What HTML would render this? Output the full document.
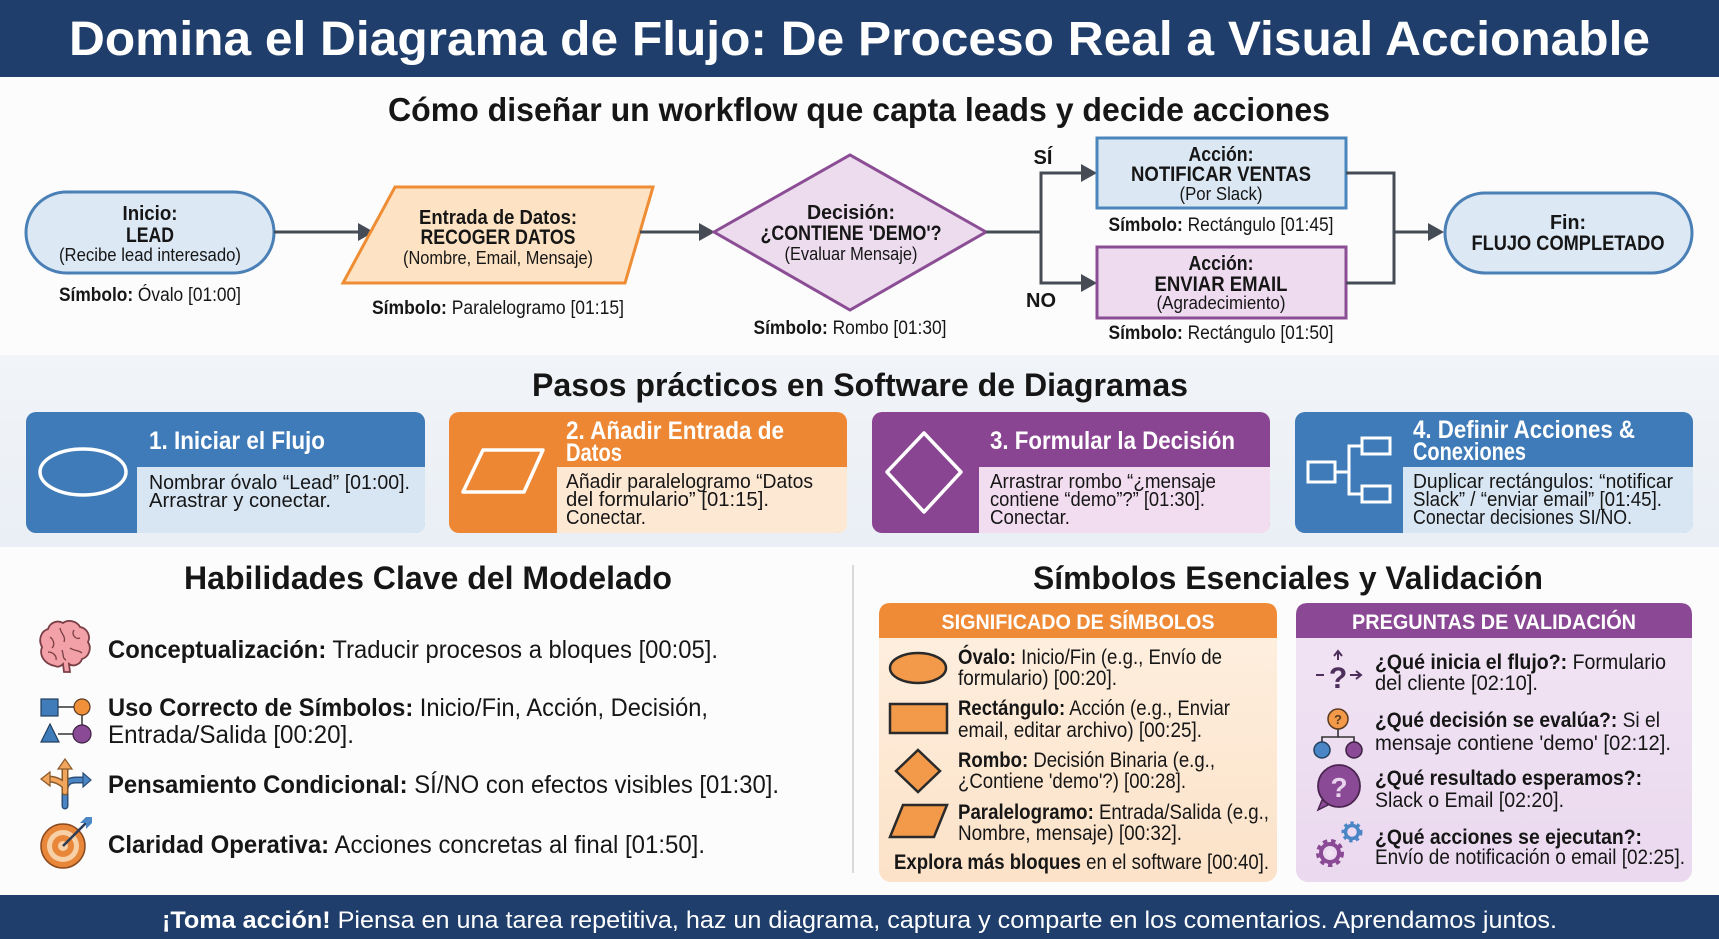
<!DOCTYPE html>
<html><head><meta charset="utf-8">
<style>
html,body{margin:0;padding:0;background:#fcfcfd;}
svg{display:block;}
text{font-family:"Liberation Sans",sans-serif;fill:#161616;}
.b{font-weight:bold;}
.w{fill:#fff;}
</style></head>
<body>
<svg width="1719" height="939" viewBox="0 0 1719 939" xmlns="http://www.w3.org/2000/svg">
<defs>
<linearGradient id="band" x1="0" y1="0" x2="0" y2="1"><stop offset="0" stop-color="#f1f4f8"/><stop offset="1" stop-color="#eaeff5"/></linearGradient>
<linearGradient id="orb" x1="0" y1="0" x2="0" y2="1"><stop offset="0" stop-color="#fef0e1"/><stop offset="1" stop-color="#fce2c8"/></linearGradient>
<linearGradient id="pub" x1="0" y1="0" x2="0" y2="1"><stop offset="0" stop-color="#f1e4f4"/><stop offset="1" stop-color="#ebd9ef"/></linearGradient>
</defs>
<rect x="0" y="0" width="1719" height="939" fill="#fcfcfd"/>

<!-- Header -->
<rect x="0" y="0" width="1719" height="77" fill="#1f3e6b"/>
<text x="69" y="55" font-size="48" class="b w" textLength="1581" lengthAdjust="spacingAndGlyphs">Domina el Diagrama de Flujo: De Proceso Real a Visual Accionable</text>

<!-- Subtitle -->
<text x="388" y="121" font-size="33" class="b" textLength="942" lengthAdjust="spacingAndGlyphs">Cómo diseñar un workflow que capta leads y decide acciones</text>

<!-- Flow: start oval -->
<rect x="26" y="192" width="248" height="81" rx="40.5" fill="#dce9f5" stroke="#4a80b6" stroke-width="3"/>
<text x="150" y="220" font-size="20" class="b" text-anchor="middle" textLength="55" lengthAdjust="spacingAndGlyphs">Inicio:</text>
<text x="150" y="242" font-size="21" class="b" text-anchor="middle" textLength="48" lengthAdjust="spacingAndGlyphs">LEAD</text>
<text x="150" y="261" font-size="18" text-anchor="middle" textLength="182" lengthAdjust="spacingAndGlyphs">(Recibe lead interesado)</text>
<text x="150" y="301" font-size="19" text-anchor="middle" textLength="182" lengthAdjust="spacingAndGlyphs"><tspan class="b">Símbolo:</tspan> Óvalo [01:00]</text>

<!-- arrow 1 -->
<line x1="274" y1="232" x2="360" y2="232" stroke="#464c55" stroke-width="3"/>
<polygon points="358,223 374,232 358,241" fill="#464c55"/>

<!-- parallelogram -->
<polygon points="395,187 653,187 625,283 343,283" fill="#fde3c4" stroke="#ee8d33" stroke-width="3" stroke-linejoin="miter"/>
<text x="498" y="224" font-size="20" class="b" text-anchor="middle" textLength="158" lengthAdjust="spacingAndGlyphs">Entrada de Datos:</text>
<text x="498" y="244" font-size="21" class="b" text-anchor="middle" textLength="155" lengthAdjust="spacingAndGlyphs">RECOGER DATOS</text>
<text x="498" y="264" font-size="18" text-anchor="middle" textLength="190" lengthAdjust="spacingAndGlyphs">(Nombre, Email, Mensaje)</text>
<text x="498" y="314" font-size="19" text-anchor="middle" textLength="252" lengthAdjust="spacingAndGlyphs"><tspan class="b">Símbolo:</tspan> Paralelogramo [01:15]</text>

<!-- arrow 2 -->
<line x1="640" y1="232" x2="700" y2="232" stroke="#464c55" stroke-width="3"/>
<polygon points="699,223 715,232 699,241" fill="#464c55"/>

<!-- diamond -->
<polygon points="714,232 850,155 986,232 850,310" fill="#ecdcee" stroke="#8b4d94" stroke-width="3"/>
<text x="851" y="219" font-size="20" class="b" text-anchor="middle" textLength="88" lengthAdjust="spacingAndGlyphs">Decisión:</text>
<text x="851" y="240" font-size="21" class="b" text-anchor="middle" textLength="181" lengthAdjust="spacingAndGlyphs">¿CONTIENE 'DEMO'?</text>
<text x="851" y="260" font-size="18" text-anchor="middle" textLength="133" lengthAdjust="spacingAndGlyphs">(Evaluar Mensaje)</text>
<text x="850" y="334" font-size="19" text-anchor="middle" textLength="193" lengthAdjust="spacingAndGlyphs"><tspan class="b">Símbolo:</tspan> Rombo [01:30]</text>

<!-- branch connectors -->
<polyline points="986,232 1041,232" fill="none" stroke="#464c55" stroke-width="3"/>
<polyline points="1083,173 1041,173 1041,283 1083,283" fill="none" stroke="#464c55" stroke-width="3"/>
<polygon points="1081,164 1097,173 1081,182" fill="#464c55"/>
<polygon points="1081,274 1097,283 1081,292" fill="#464c55"/>
<text x="1043" y="164" font-size="20" class="b" text-anchor="middle">SÍ</text>
<text x="1041" y="307" font-size="20" class="b" text-anchor="middle">NO</text>

<!-- rect 1 -->
<rect x="1097" y="138" width="249" height="70" fill="#dbe8f4" stroke="#4a86bb" stroke-width="3"/>
<text x="1221" y="161" font-size="20" class="b" text-anchor="middle" textLength="65" lengthAdjust="spacingAndGlyphs">Acción:</text>
<text x="1221" y="181" font-size="21" class="b" text-anchor="middle" textLength="180" lengthAdjust="spacingAndGlyphs">NOTIFICAR VENTAS</text>
<text x="1221" y="200" font-size="18" text-anchor="middle" textLength="83" lengthAdjust="spacingAndGlyphs">(Por Slack)</text>
<text x="1221" y="231" font-size="19" text-anchor="middle" textLength="225" lengthAdjust="spacingAndGlyphs"><tspan class="b">Símbolo:</tspan> Rectángulo [01:45]</text>

<!-- rect 2 -->
<rect x="1097" y="247" width="249" height="71" fill="#eedbf0" stroke="#8b4d94" stroke-width="3"/>
<text x="1221" y="270" font-size="20" class="b" text-anchor="middle" textLength="65" lengthAdjust="spacingAndGlyphs">Acción:</text>
<text x="1221" y="291" font-size="21" class="b" text-anchor="middle" textLength="133" lengthAdjust="spacingAndGlyphs">ENVIAR EMAIL</text>
<text x="1221" y="309" font-size="18" text-anchor="middle" textLength="129" lengthAdjust="spacingAndGlyphs">(Agradecimiento)</text>
<text x="1221" y="339" font-size="19" text-anchor="middle" textLength="225" lengthAdjust="spacingAndGlyphs"><tspan class="b">Símbolo:</tspan> Rectángulo [01:50]</text>

<!-- merge connectors -->
<polyline points="1346,173 1394,173 1394,283 1346,283" fill="none" stroke="#464c55" stroke-width="3"/>
<line x1="1394" y1="232" x2="1430" y2="232" stroke="#464c55" stroke-width="3"/>
<polygon points="1428,223 1444,232 1428,241" fill="#464c55"/>

<!-- end oval -->
<rect x="1445" y="193" width="247" height="80" rx="40" fill="#dce9f5" stroke="#4a80b6" stroke-width="3"/>
<text x="1568" y="229" font-size="20" class="b" text-anchor="middle" textLength="36" lengthAdjust="spacingAndGlyphs">Fin:</text>
<text x="1568" y="250" font-size="21" class="b" text-anchor="middle" textLength="193" lengthAdjust="spacingAndGlyphs">FLUJO COMPLETADO</text>

<!-- Section 2 band -->
<rect x="0" y="355" width="1719" height="192" fill="url(#band)"/>
<text x="532" y="396" font-size="32" class="b" textLength="656" lengthAdjust="spacingAndGlyphs">Pasos prácticos en Software de Diagramas</text>

<!-- Card 1 -->
<rect x="26" y="412" width="399" height="121" rx="10" fill="#3f7bb8"/>
<path d="M137,467 H425 V523 Q425,533 415,533 H137 Z" fill="#d8e6f4"/>
<ellipse cx="83" cy="472" rx="43" ry="23" fill="none" stroke="#fff" stroke-width="3.5"/>
<text x="149" y="449" font-size="25" class="b w" textLength="176" lengthAdjust="spacingAndGlyphs">1. Iniciar el Flujo</text>
<text x="149" y="489" font-size="20.5" textLength="261" lengthAdjust="spacingAndGlyphs">Nombrar óvalo “Lead” [01:00].</text>
<text x="149" y="507" font-size="20.5" textLength="182" lengthAdjust="spacingAndGlyphs">Arrastrar y conectar.</text>

<!-- Card 2 -->
<rect x="449" y="412" width="398" height="121" rx="10" fill="#ee8733"/>
<path d="M557,467 H847 V523 Q847,533 837,533 H557 Z" fill="#fde8d4"/>
<polygon points="483,450 543,450 524,492 463,492" fill="none" stroke="#fff" stroke-width="3.5" stroke-linejoin="round"/>
<text x="566" y="439" font-size="25" class="b w" textLength="218" lengthAdjust="spacingAndGlyphs">2. Añadir Entrada de</text>
<text x="566" y="461" font-size="25" class="b w" textLength="56" lengthAdjust="spacingAndGlyphs">Datos</text>
<text x="566" y="488" font-size="20.5" textLength="247" lengthAdjust="spacingAndGlyphs">Añadir paralelogramo “Datos</text>
<text x="566" y="506" font-size="20.5" textLength="203" lengthAdjust="spacingAndGlyphs">del formulario” [01:15].</text>
<text x="566" y="524" font-size="20.5" textLength="80" lengthAdjust="spacingAndGlyphs">Conectar.</text>

<!-- Card 3 -->
<rect x="872" y="412" width="398" height="121" rx="10" fill="#8a4592"/>
<path d="M979,467 H1270 V523 Q1270,533 1260,533 H979 Z" fill="#f2dcf0"/>
<polygon points="924,433 961,472 924,512 887,472" fill="none" stroke="#fff" stroke-width="3.5" stroke-linejoin="round"/>
<text x="990" y="449" font-size="25" class="b w" textLength="245" lengthAdjust="spacingAndGlyphs">3. Formular la Decisión</text>
<text x="990" y="488" font-size="20.5" textLength="226" lengthAdjust="spacingAndGlyphs">Arrastrar rombo “¿mensaje</text>
<text x="990" y="506" font-size="20.5" textLength="215" lengthAdjust="spacingAndGlyphs">contiene “demo”?” [01:30].</text>
<text x="990" y="524" font-size="20.5" textLength="80" lengthAdjust="spacingAndGlyphs">Conectar.</text>

<!-- Card 4 -->
<rect x="1295" y="412" width="398" height="121" rx="10" fill="#3f7bb8"/>
<path d="M1403,467 H1693 V523 Q1693,533 1683,533 H1403 Z" fill="#d8e6f4"/>
<g fill="none" stroke="#fff" stroke-width="3">
<rect x="1308" y="462" width="27" height="20"/>
<rect x="1362" y="438" width="28" height="16"/>
<rect x="1362" y="486" width="28" height="16"/>
<polyline points="1335,472 1349,472"/>
<polyline points="1362,446 1349,446 1349,494 1362,494"/>
</g>
<text x="1413" y="438" font-size="25" class="b w" textLength="222" lengthAdjust="spacingAndGlyphs">4. Definir Acciones &amp;</text>
<text x="1413" y="460" font-size="25" class="b w" textLength="113" lengthAdjust="spacingAndGlyphs">Conexiones</text>
<text x="1413" y="488" font-size="20.5" textLength="260" lengthAdjust="spacingAndGlyphs">Duplicar rectángulos: “notificar</text>
<text x="1413" y="506" font-size="20.5" textLength="249" lengthAdjust="spacingAndGlyphs">Slack” / “enviar email” [01:45].</text>
<text x="1413" y="524" font-size="20.5" textLength="219" lengthAdjust="spacingAndGlyphs">Conectar decisiones SI/NO.</text>

<!-- Section 3 -->
<text x="184" y="589" font-size="32" class="b" textLength="488" lengthAdjust="spacingAndGlyphs">Habilidades Clave del Modelado</text>
<text x="1033" y="589" font-size="32" class="b" textLength="510" lengthAdjust="spacingAndGlyphs">Símbolos Esenciales y Validación</text>
<line x1="853" y1="565" x2="853" y2="873" stroke="#dadada" stroke-width="2"/>

<!-- brain icon -->
<g stroke="#7a3e45" stroke-width="1.8">
<path d="M55,666 C44,664 39,655 42,647 C38,640 41,631 48,629 C50,622 58,620 63,623 C68,619 77,621 80,627 C87,628 91,636 88,642 C92,648 89,657 82,659 C80,665 73,667 69,664 L70,672 L64,672 L63,664 C60,667 57,667 55,666 Z" fill="#f3a1a9"/>
<path d="M50,637 C54,640 55,645 52,648 M60,628 C61,634 66,636 64,642 M74,630 C71,635 76,640 80,638 M48,652 C53,652 57,656 56,660 M70,648 C74,651 79,650 82,653 M62,650 C64,655 62,658 66,660" fill="none" stroke-width="1.3"/>
</g>
<text x="108" y="658" font-size="25" textLength="610" lengthAdjust="spacingAndGlyphs"><tspan class="b">Conceptualización:</tspan> Traducir procesos a bloques [00:05].</text>

<!-- shapes icon -->
<line x1="58" y1="707" x2="74" y2="707" stroke="#333" stroke-width="1.5"/>
<line x1="82" y1="715" x2="82" y2="725" stroke="#333" stroke-width="1.5"/>
<line x1="58" y1="734" x2="73" y2="734" stroke="#333" stroke-width="1.5"/>
<rect x="41" y="699" width="17" height="17" fill="#3f7cb9" stroke="#23405f" stroke-width="1.2"/>
<circle cx="82" cy="707" r="8" fill="#f0913a" stroke="#5a3a20" stroke-width="1.2"/>
<polygon points="41,742 50,724 59,742" fill="#3f7cb9" stroke="#23405f" stroke-width="1.2"/>
<circle cx="82" cy="734" r="9" fill="#8b4a95" stroke="#3a2040" stroke-width="1.2"/>
<text x="108" y="716" font-size="25" textLength="600" lengthAdjust="spacingAndGlyphs"><tspan class="b">Uso Correcto de Símbolos:</tspan> Inicio/Fin, Acción, Decisión,</text>
<text x="108" y="743" font-size="25" textLength="246" lengthAdjust="spacingAndGlyphs">Entrada/Salida [00:20].</text>

<!-- arrows icon -->
<g fill="none" stroke-linecap="round" stroke-linejoin="round">
<path d="M65,806 L65,790 Q65,780 76,780 L84,780" stroke="#2e4f78" stroke-width="7"/>
<path d="M65,806 L65,790 Q65,780 76,780 L84,780" stroke="#4a86c5" stroke-width="4"/>
<path d="M65,792 L65,766 M65,786 Q58,779 48,779" stroke="#8a5a2a" stroke-width="7"/>
<path d="M65,792 L65,766 M65,786 Q58,779 48,779" stroke="#f2a55c" stroke-width="4"/>
</g>
<polygon points="65,759 58,769 72,769" fill="#f2a55c" stroke="#8a5a2a" stroke-width="1.2"/>
<polygon points="41,779 50,772 50,786" fill="#f2a55c" stroke="#8a5a2a" stroke-width="1.2"/>
<polygon points="91,780 83,773 83,787" fill="#4a86c5" stroke="#2e4f78" stroke-width="1.2"/>
<text x="108" y="793" font-size="25" textLength="671" lengthAdjust="spacingAndGlyphs"><tspan class="b">Pensamiento Condicional:</tspan> SÍ/NO con efectos visibles [01:30].</text>

<!-- target icon -->
<circle cx="63" cy="846" r="22" fill="#e8873a" stroke="#8a4a20" stroke-width="1.5"/>
<circle cx="63" cy="846" r="16" fill="#f8d0a8"/>
<circle cx="63" cy="846" r="11" fill="#e8873a"/>
<circle cx="63" cy="846" r="5" fill="#f8d0a8"/>
<line x1="63" y1="846" x2="86" y2="823" stroke="#2b3a55" stroke-width="2.5"/>
<polygon points="86,823 80,823 86,817 92,817" fill="#4a86c5"/>
<polygon points="86,823 86,829 92,823 92,817" fill="#4a86c5"/>
<text x="108" y="853" font-size="25" textLength="597" lengthAdjust="spacingAndGlyphs"><tspan class="b">Claridad Operativa:</tspan> Acciones concretas al final [01:50].</text>

<!-- Orange panel -->
<rect x="879" y="603" width="398" height="279" rx="12" fill="url(#orb)"/>
<path d="M879,638 V615 Q879,603 891,603 H1265 Q1277,603 1277,615 V638 Z" fill="#ef8a36"/>
<text x="1078" y="629" font-size="21" class="b w" text-anchor="middle" textLength="273" lengthAdjust="spacingAndGlyphs">SIGNIFICADO DE SÍMBOLOS</text>
<ellipse cx="918" cy="668" rx="28" ry="15" fill="#f29a4a" stroke="#2a2a2a" stroke-width="2.5"/>
<rect x="890" y="704" width="57" height="29" fill="#f29a4a" stroke="#2a2a2a" stroke-width="2.5"/>
<polygon points="918,750 940,771 918,792 896,771" fill="#f29a4a" stroke="#2a2a2a" stroke-width="2.5"/>
<polygon points="903,805 947,805 934,837 890,837" fill="#f29a4a" stroke="#2a2a2a" stroke-width="2.5"/>
<text x="958" y="664" font-size="21" textLength="264" lengthAdjust="spacingAndGlyphs"><tspan class="b">Óvalo:</tspan> Inicio/Fin (e.g., Envío de</text>
<text x="958" y="685" font-size="21" textLength="159" lengthAdjust="spacingAndGlyphs">formulario) [00:20].</text>
<text x="958" y="715" font-size="21" textLength="272" lengthAdjust="spacingAndGlyphs"><tspan class="b">Rectángulo:</tspan> Acción (e.g., Enviar</text>
<text x="958" y="737" font-size="21" textLength="244" lengthAdjust="spacingAndGlyphs">email, editar archivo) [00:25].</text>
<text x="958" y="767" font-size="21" textLength="257" lengthAdjust="spacingAndGlyphs"><tspan class="b">Rombo:</tspan> Decisión Binaria (e.g.,</text>
<text x="958" y="788" font-size="21" textLength="228" lengthAdjust="spacingAndGlyphs">¿Contiene 'demo'?) [00:28].</text>
<text x="958" y="819" font-size="21" textLength="311" lengthAdjust="spacingAndGlyphs"><tspan class="b">Paralelogramo:</tspan> Entrada/Salida (e.g.,</text>
<text x="958" y="840" font-size="21" textLength="224" lengthAdjust="spacingAndGlyphs">Nombre, mensaje) [00:32].</text>
<text x="894" y="869" font-size="21" textLength="375" lengthAdjust="spacingAndGlyphs"><tspan class="b">Explora más bloques</tspan> en el software [00:40].</text>

<!-- Purple panel -->
<rect x="1296" y="603" width="396" height="279" rx="12" fill="url(#pub)"/>
<path d="M1296,638 V615 Q1296,603 1308,603 H1680 Q1692,603 1692,615 V638 Z" fill="#8b4894"/>
<text x="1494" y="629" font-size="21" class="b w" text-anchor="middle" textLength="284" lengthAdjust="spacingAndGlyphs">PREGUNTAS DE VALIDACIÓN</text>

<!-- val icon 1 -->
<text x="1338" y="688" font-size="30" class="b" text-anchor="middle" style="fill:#4e2f5c">?</text>
<line x1="1338" y1="652" x2="1338" y2="660" stroke="#4e2f5c" stroke-width="2"/>
<polyline points="1334,656 1338,651 1342,656" fill="none" stroke="#4e2f5c" stroke-width="2"/>
<line x1="1316" y1="675" x2="1324" y2="675" stroke="#4e2f5c" stroke-width="2"/>
<line x1="1350" y1="675" x2="1360" y2="675" stroke="#4e2f5c" stroke-width="2"/>
<polyline points="1356,671 1361,675 1356,679" fill="none" stroke="#4e2f5c" stroke-width="2"/>
<text x="1375" y="669" font-size="21.5" textLength="291" lengthAdjust="spacingAndGlyphs"><tspan class="b">¿Qué inicia el flujo?:</tspan> Formulario</text>
<text x="1375" y="690" font-size="21.5" textLength="163" lengthAdjust="spacingAndGlyphs">del cliente [02:10].</text>

<!-- val icon 2 -->
<polyline points="1338,729 1338,737 1322,737 1322,742" fill="none" stroke="#333" stroke-width="1.6"/>
<polyline points="1338,737 1354,737 1354,742" fill="none" stroke="#333" stroke-width="1.6"/>
<circle cx="1338" cy="719" r="10" fill="#f29a4a" stroke="#5a3a20" stroke-width="1.5"/>
<text x="1338" y="724" font-size="13" class="b" text-anchor="middle" style="fill:#5a3a20">?</text>
<circle cx="1322" cy="750" r="8" fill="#4a86c5" stroke="#23405f" stroke-width="1.5"/>
<circle cx="1354" cy="750" r="8" fill="#8b4a95" stroke="#3a2040" stroke-width="1.5"/>
<text x="1375" y="727" font-size="21.5" textLength="285" lengthAdjust="spacingAndGlyphs"><tspan class="b">¿Qué decisión se evalúa?:</tspan> Si el</text>
<text x="1375" y="750" font-size="21.5" textLength="296" lengthAdjust="spacingAndGlyphs">mensaje contiene 'demo' [02:12].</text>

<!-- val icon 3 -->
<path d="M1322,800 L1318,810 L1330,804 Z" fill="#8b4a95" stroke="#4a2550" stroke-width="1.5"/>
<circle cx="1339" cy="786" r="21" fill="#8b4a95" stroke="#4a2550" stroke-width="1.8"/>
<text x="1339" y="797" font-size="28" class="b" text-anchor="middle" style="fill:#e9d3ee">?</text>
<text x="1375" y="785" font-size="21.5" textLength="267" lengthAdjust="spacingAndGlyphs"><tspan class="b">¿Qué resultado esperamos?:</tspan></text>
<text x="1375" y="807" font-size="21.5" textLength="189" lengthAdjust="spacingAndGlyphs">Slack o Email [02:20].</text>

<!-- val icon 4 gears -->
<circle cx="1330" cy="853" r="11" fill="none" stroke="#8b4a95" stroke-width="6" stroke-dasharray="4 3.5"/>
<circle cx="1330" cy="853" r="9" fill="none" stroke="#8b4a95" stroke-width="4"/>
<circle cx="1330" cy="853" r="3.5" fill="#f0e2f3"/>
<circle cx="1352" cy="832" r="8" fill="none" stroke="#4a86c5" stroke-width="5" stroke-dasharray="3 3"/>
<circle cx="1352" cy="832" r="6.5" fill="none" stroke="#4a86c5" stroke-width="3.5"/>
<text x="1375" y="844" font-size="21.5" textLength="267" lengthAdjust="spacingAndGlyphs"><tspan class="b">¿Qué acciones se ejecutan?:</tspan></text>
<text x="1375" y="864" font-size="21.5" textLength="310" lengthAdjust="spacingAndGlyphs">Envío de notificación o email [02:25].</text>

<!-- Footer -->
<rect x="0" y="895" width="1719" height="44" fill="#1f3e6b"/>
<text x="162" y="928" font-size="24" class="w" textLength="1395" lengthAdjust="spacingAndGlyphs"><tspan class="b">¡Toma acción!</tspan> Piensa en una tarea repetitiva, haz un diagrama, captura y comparte en los comentarios. Aprendamos juntos.</text>
</svg>
</body></html>
